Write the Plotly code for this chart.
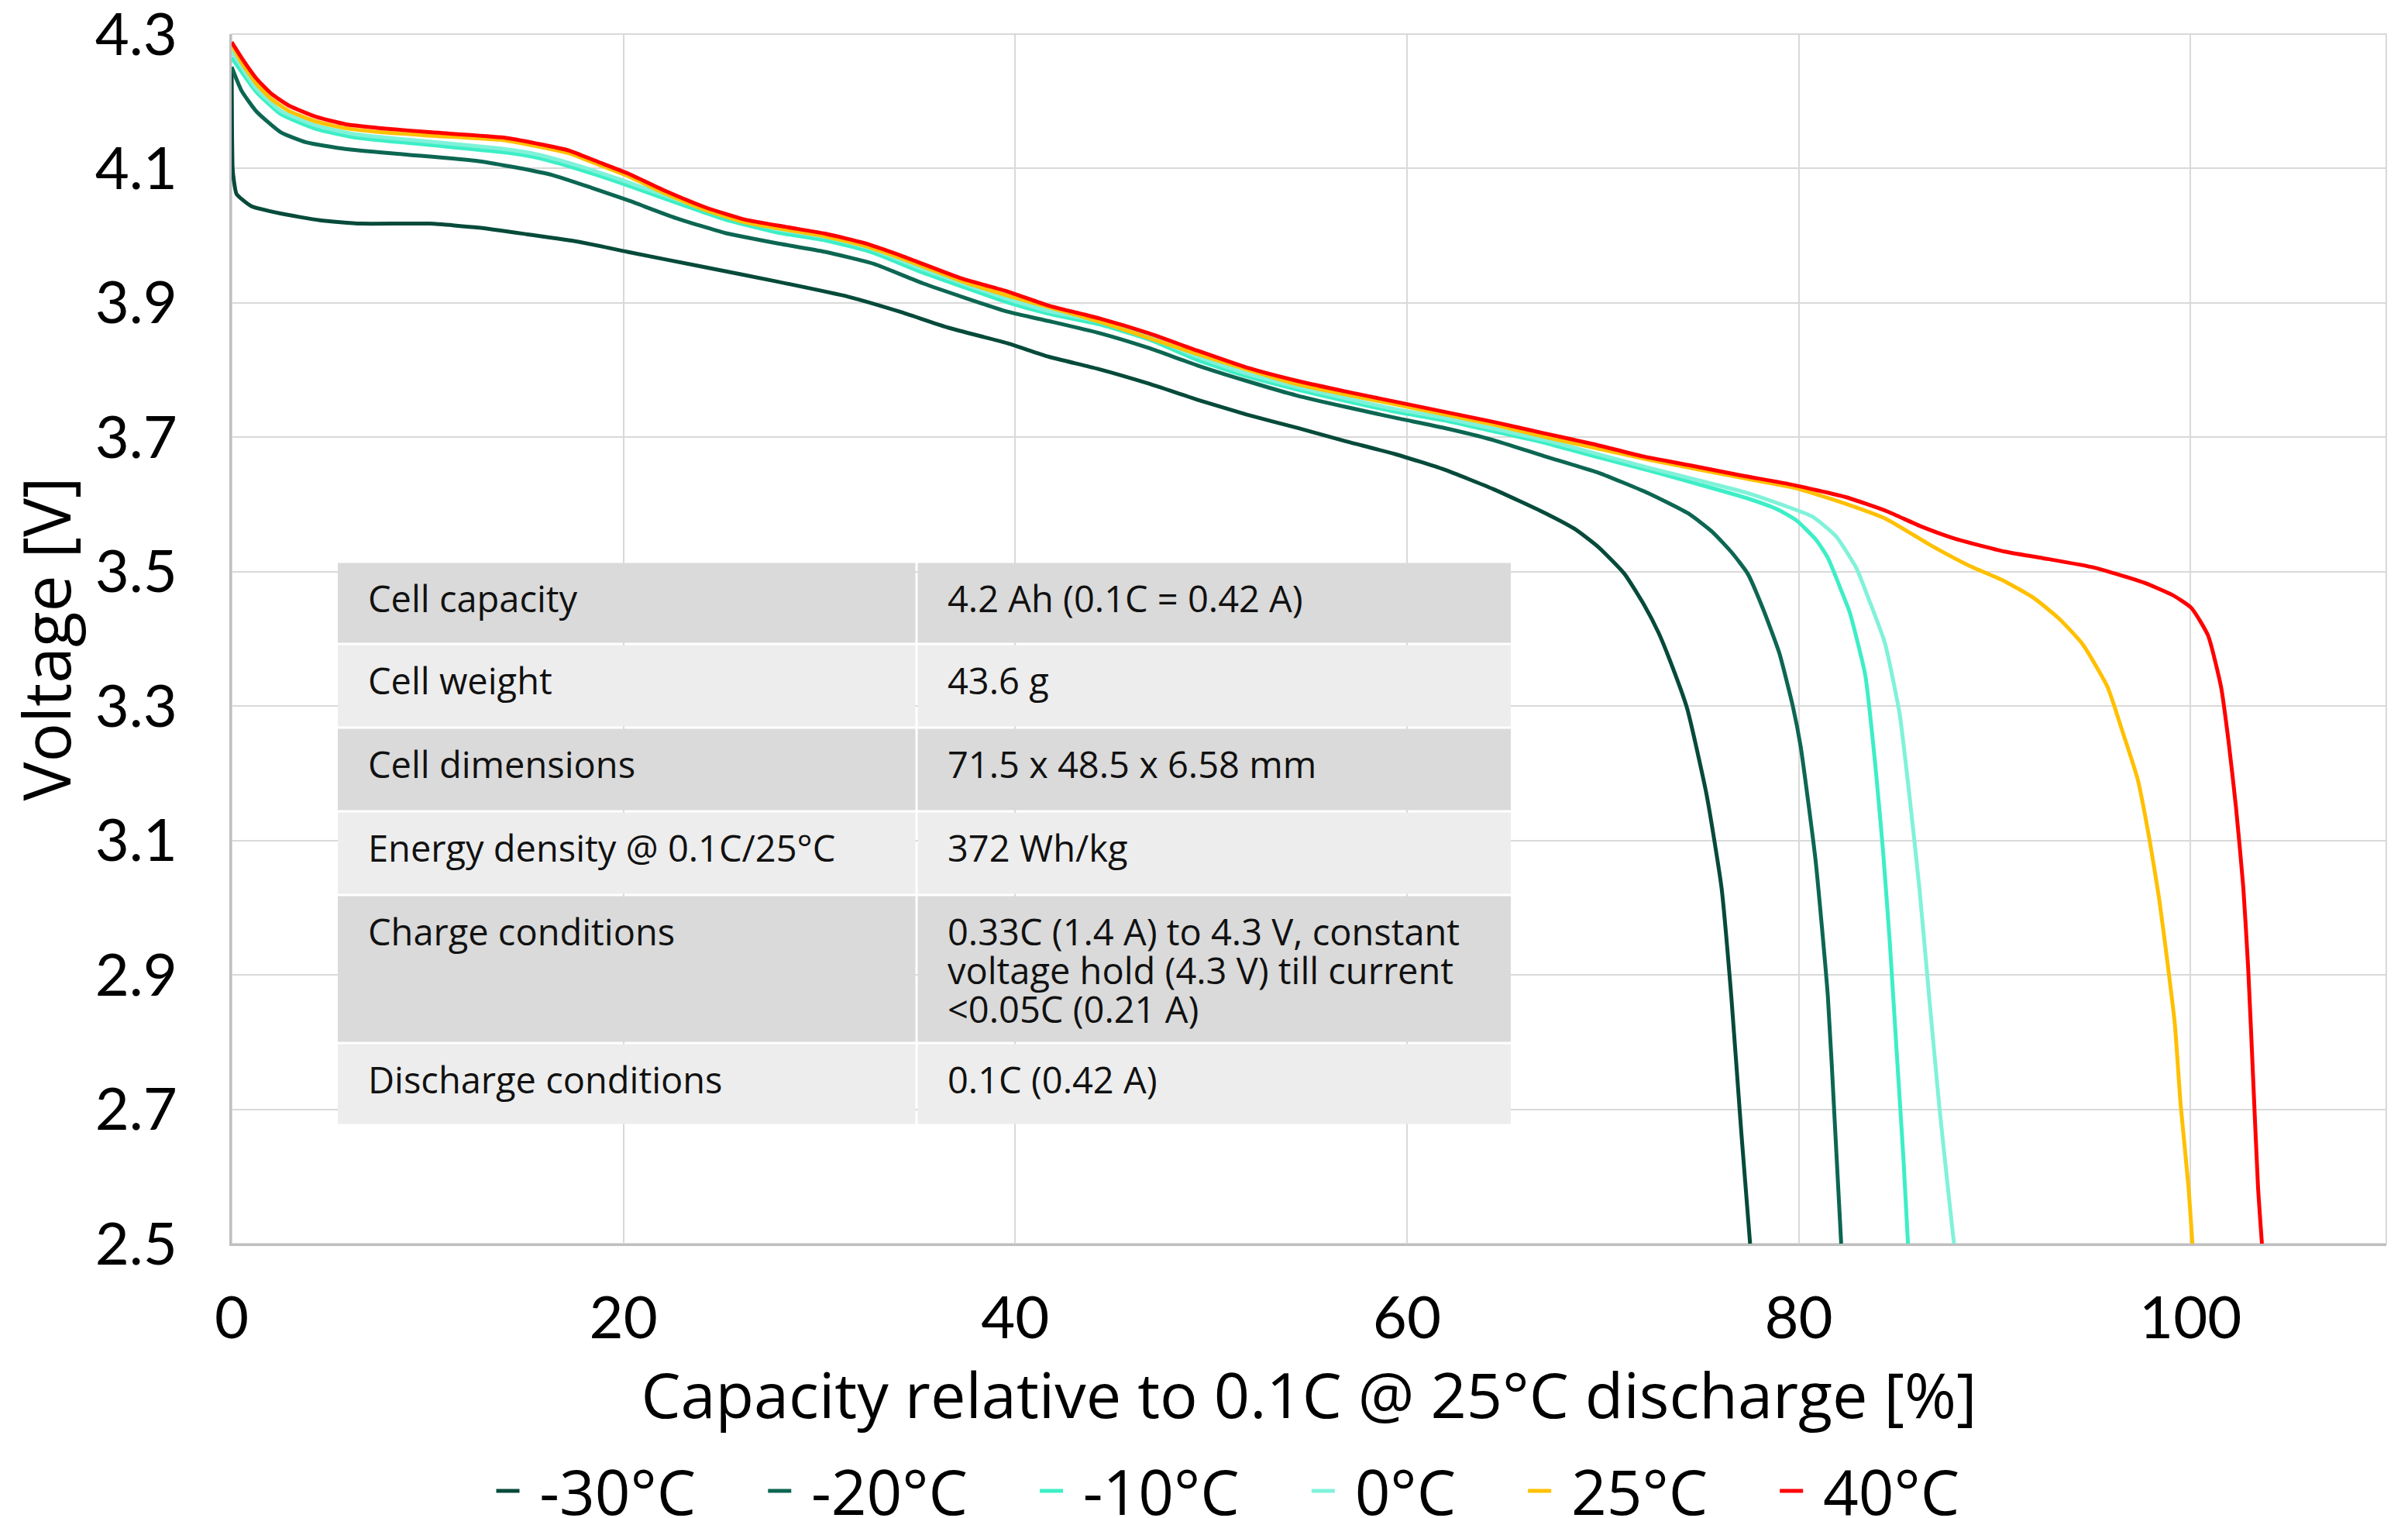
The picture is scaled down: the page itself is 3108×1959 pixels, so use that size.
import plotly.graph_objects as go

# ---------------- data ----------------
series_names = ["-30°C", "-20°C", "-10°C", "0°C", "25°C", "40°C"]
series_colors = ["#064A3A", "#0C6652", "#3DEEC6", "#80F2D9", "#FFC000", "#FF0000"]

cap_m30 = [0, 0.02, 0.05, 0.1, 0.25, 1.0, 2.5, 4.5, 6.6, 10.1, 12.6, 15.1, 17.7, 20.2, 24.0, 27.8,
           31.5, 34.1, 36.6, 39.6, 41.7, 44.2, 46.8, 49.3, 51.8, 54.4, 56.9, 59.4, 61.9, 64.4, 67.0,
           68.6, 69.8, 71.1, 72.1, 72.85, 73.4, 74.3, 75.3, 76.06, 76.56, 77.07, 77.52]
v_m30 = [4.25, 4.15, 4.10, 4.085, 4.062, 4.044, 4.033, 4.023, 4.018, 4.018, 4.012, 4.002, 3.991,
         3.976, 3.954, 3.932, 3.909, 3.887, 3.863, 3.840, 3.820, 3.802, 3.780, 3.756, 3.734, 3.714,
         3.694, 3.675, 3.652, 3.623, 3.588, 3.563, 3.536, 3.497, 3.451, 3.409, 3.370, 3.297, 3.168,
         3.030, 2.868, 2.666, 2.5]

cap_m20 = [0, 0.5, 1.26, 2.5, 3.8, 5.8, 8.8, 12.6, 14.6, 16.4, 18.4, 20.2, 22.7, 25.2, 27.8, 30.3,
           32.8, 35.3, 39.6, 41.7, 44.3, 46.8, 49.3, 51.8, 54.4, 56.9, 59.4, 61.9, 64.4, 67.0, 69.8,
           72.3, 74.4, 75.6, 76.6, 77.4, 78.15, 79.0, 79.7, 80.1, 80.86, 81.49, 81.87, 82.17]
v_m20 = [4.251, 4.216, 4.185, 4.154, 4.139, 4.129, 4.121, 4.111, 4.101, 4.090, 4.071, 4.053, 4.026,
         4.004, 3.989, 3.976, 3.958, 3.929, 3.887, 3.873, 3.855, 3.833, 3.807, 3.784, 3.762, 3.745,
         3.729, 3.714, 3.696, 3.672, 3.647, 3.617, 3.586, 3.559, 3.528, 3.497, 3.447, 3.38, 3.30,
         3.24, 3.071, 2.868, 2.666, 2.5]

cap_m10 = [0, 1.26, 2.5, 4.3, 6.3, 10.1, 13.9, 15.6, 17.7, 20.2, 22.7, 25.2, 27.8, 30.3, 32.6, 35.3,
           39.6, 41.7, 44.3, 46.8, 49.3, 51.8, 54.4, 56.9, 59.4, 61.9, 64.4, 67.0, 69.8, 72.3, 74.9,
           77.4, 78.9, 79.9, 80.9, 81.5, 82.2, 82.6, 83.4, 83.9, 84.3, 84.65, 85.0, 85.35, 85.58]
v_m10 = [4.265, 4.214, 4.181, 4.159, 4.146, 4.135, 4.124, 4.116, 4.099, 4.075, 4.049, 4.024, 4.005,
         3.993, 3.976, 3.945, 3.901, 3.884, 3.868, 3.846, 3.815, 3.791, 3.771, 3.754, 3.738, 3.725,
         3.709, 3.692, 3.670, 3.651, 3.630, 3.609, 3.593, 3.576, 3.547, 3.52, 3.470, 3.440, 3.346,
         3.216, 3.087, 2.949, 2.787, 2.626, 2.5]

cap_0 = [0, 1.26, 2.5, 4.3, 6.3, 10.1, 13.9, 15.6, 17.7, 20.2, 22.7, 25.2, 27.8, 30.3, 32.6, 35.3,
         39.6, 41.7, 44.3, 46.8, 49.3, 51.8, 54.4, 56.9, 59.4, 61.9, 64.4, 67.3, 72.3, 74.9, 77.4,
         79.2, 80.7, 81.9, 82.95, 83.5, 84.4, 85.15, 85.65, 86.16, 86.66, 87.17, 87.67, 87.93]
v_0 = [4.275, 4.219, 4.186, 4.164, 4.151, 4.140, 4.129, 4.121, 4.104, 4.080, 4.054, 4.029, 4.010,
       3.998, 3.981, 3.950, 3.906, 3.888, 3.872, 3.850, 3.820, 3.795, 3.775, 3.758, 3.742, 3.729,
       3.713, 3.694, 3.655, 3.636, 3.617, 3.599, 3.582, 3.553, 3.505, 3.465, 3.394, 3.289, 3.168,
       3.030, 2.868, 2.707, 2.569, 2.5]

cap_25 = [0, 0.5, 1.26, 2.0, 2.9, 4.3, 5.8, 7.6, 10.1, 13.9, 15.6, 17.2, 18.7, 20.2, 22.2, 24.2, 26.2,
          28.3, 30.3, 32.3, 34.3, 37.3, 39.6, 44.3, 49.3, 54.4, 59.4, 64.4, 67.3, 72.3, 77.4, 79.9,
          82.4, 84.5, 86.7, 88.7, 90.5, 92.0, 93.3, 94.5, 95.76, 96.5, 97.3, 97.9, 98.4, 98.8, 99.2,
          99.5, 99.9, 100.1]
v_25 = [4.285, 4.258, 4.226, 4.204, 4.186, 4.170, 4.160, 4.154, 4.149, 4.142, 4.133, 4.123, 4.106,
        4.089, 4.062, 4.038, 4.020, 4.009, 3.999, 3.985, 3.965, 3.932, 3.911, 3.872, 3.824, 3.779,
        3.749, 3.719, 3.699, 3.667, 3.638, 3.624, 3.601, 3.578, 3.540, 3.509, 3.486, 3.461, 3.430,
        3.392, 3.329, 3.265, 3.192, 3.103, 3.014, 2.925, 2.828, 2.707, 2.585, 2.5]

cap_40 = [0, 0.5, 1.26, 2.0, 2.9, 4.3, 5.8, 7.6, 10.1, 13.9, 15.6, 17.2, 18.7, 20.2, 22.2, 24.2, 26.2,
          28.3, 30.3, 32.3, 34.3, 37.3, 39.6, 41.7, 44.3, 46.8, 49.3, 51.8, 54.4, 56.9, 59.4, 61.9,
          64.4, 67.0, 69.5, 72.0, 74.5, 77.1, 79.4, 82.4, 84.5, 86.2, 88.0, 90.5, 92.5, 95.1, 97.6,
          99.1, 100.05, 100.9, 101.56, 101.94, 102.32, 102.7, 102.95, 103.2, 103.45, 103.65]
v_40 = [4.288, 4.265, 4.234, 4.212, 4.194, 4.177, 4.166, 4.160, 4.154, 4.146, 4.137, 4.127, 4.110,
        4.093, 4.066, 4.042, 4.024, 4.013, 4.003, 3.989, 3.969, 3.936, 3.917, 3.896, 3.877, 3.855,
        3.829, 3.804, 3.784, 3.768, 3.753, 3.738, 3.723, 3.706, 3.690, 3.672, 3.658, 3.643, 3.631,
        3.611, 3.590, 3.568, 3.549, 3.530, 3.520, 3.506, 3.484, 3.465, 3.446, 3.405, 3.329, 3.249,
        3.151, 3.030, 2.909, 2.747, 2.585, 2.5]

x_tickvals = [0, 20, 40, 60, 80, 100]
x_ticktext = ["0", "20", "40", "60", "80", "100"]
y_tickvals = [2.5, 2.7, 2.9, 3.1, 3.3, 3.5, 3.7, 3.9, 4.1, 4.3]
y_ticktext = ["2.5", "2.7", "2.9", "3.1", "3.3", "3.5", "3.7", "3.9", "4.1", "4.3"]

table_labels = ["Cell capacity", "Cell weight", "Cell dimensions", "Energy density @ 0.1C/25°C",
                "Charge conditions", "Discharge conditions"]
table_values = ["4.2 Ah (0.1C = 0.42 A)", "43.6 g", "71.5 x 48.5 x 6.58 mm", "372 Wh/kg",
                "0.33C (1.4 A) to 4.3 V, constant\nvoltage hold (4.3 V) till current\n<0.05C (0.21 A)",
                "0.1C (0.42 A)"]

# ---------------- layout geometry (px) ----------------
W, H = 3108, 1959
PL, PR, PT, PB = 299, 3080, 44, 1605
FONT = "Open Sans"
TICKFONT = "Lato"
NB = "\u00a0"


def px_x(px):
    return (px - PL) / (PR - PL)


def px_y(py):
    return (PB - py) / (PB - PT)


fig = go.Figure()
all_x = [cap_m30, cap_m20, cap_m10, cap_0, cap_25, cap_40]
all_y = [v_m30, v_m20, v_m10, v_0, v_25, v_40]
n = len(series_names)
for i, (name, col, xs, ys) in enumerate(zip(series_names, series_colors, all_x, all_y)):
    label = NB + name + (NB * 4 if i < n - 1 else "")
    fig.add_trace(go.Scatter(x=xs, y=ys, name=label, mode="lines",
                             line=dict(color=col, width=5, shape="spline", smoothing=0.5)))

shapes = []
annotations = []
# plot frame (top/right)
shapes.append(dict(type="rect", xref="paper", yref="paper", x0=0, x1=1, y0=0, y1=1,
                   line=dict(color="#D9D9D9", width=2), layer="below"))

# table
row_tops = [725, 831, 939, 1047, 1155, 1346, 1452]
col_edges = [436, 1183, 1950]
row_fills = ["#DADADA", "#EDEDED"]
TFS = 47
for i, (lab, val) in enumerate(zip(table_labels, table_values)):
    t, b = row_tops[i], row_tops[i + 1]
    fill = row_fills[i % 2]
    for c in range(2):
        shapes.append(dict(type="rect", xref="paper", yref="paper",
                           x0=px_x(col_edges[c] + (1.5 if c else 0)),
                           x1=px_x(col_edges[c + 1] - (1.5 if c == 0 else 0)),
                           y0=px_y(b - 1.5), y1=px_y(t + 1.5),
                           fillcolor=fill, line=dict(width=0), layer="above"))
    annotations.append(dict(xref="paper", yref="paper", x=px_x(473), y=px_y(t + 47),
                            text=lab, showarrow=False, xanchor="left", yanchor="middle",
                            font=dict(family=FONT, size=TFS, color="#111111")))
    for k, line in enumerate(val.split("\n")):
        annotations.append(dict(xref="paper", yref="paper", x=px_x(1221), y=px_y(t + 47 + 50 * k),
                                text=line, showarrow=False, xanchor="left", yanchor="middle",
                                font=dict(family=FONT, size=TFS, color="#111111")))

fig.update_layout(
    width=W, height=H,
    margin=dict(l=PL, r=W - PR, t=PT, b=H - PB, pad=0, autoexpand=False),
    paper_bgcolor="white", plot_bgcolor="white",
    font=dict(family=FONT, color="#000000"),
    showlegend=True,
    legend=dict(orientation="h", xanchor="center", yanchor="middle",
                xref="container", yref="container",
                x=1585 / W, y=1 - 1924 / H, font=dict(size=80, family=FONT),
                bgcolor="rgba(0,0,0,0)", itemwidth=30),
    shapes=shapes,
    annotations=annotations,
    xaxis=dict(range=[0, 110], tickvals=x_tickvals, ticktext=x_ticktext,
               showgrid=True, gridcolor="#D9D9D9", gridwidth=2,
               showline=True, linecolor="#BFBFBF", linewidth=3,
               zeroline=False, ticks="", ticklabelstandoff=28, automargin=False,
               ticklabeloverflow="allow",
               tickfont=dict(size=76, family=TICKFONT),
               title=dict(text="Capacity relative to 0.1C @ 25°C discharge [%]",
                          font=dict(size=81, family=FONT), standoff=26)),
    yaxis=dict(range=[2.5, 4.3], tickvals=y_tickvals, ticktext=y_ticktext,
               showgrid=True, gridcolor="#D9D9D9", gridwidth=2,
               showline=True, linecolor="#BFBFBF", linewidth=3,
               zeroline=False, ticks="", ticklabelstandoff=52, automargin=False,
               ticklabeloverflow="allow",
               tickfont=dict(size=76, family=TICKFONT),
               title=dict(text="Voltage [V]", font=dict(size=84, family=FONT), standoff=4)),
)

fig.write_html("out.html")
